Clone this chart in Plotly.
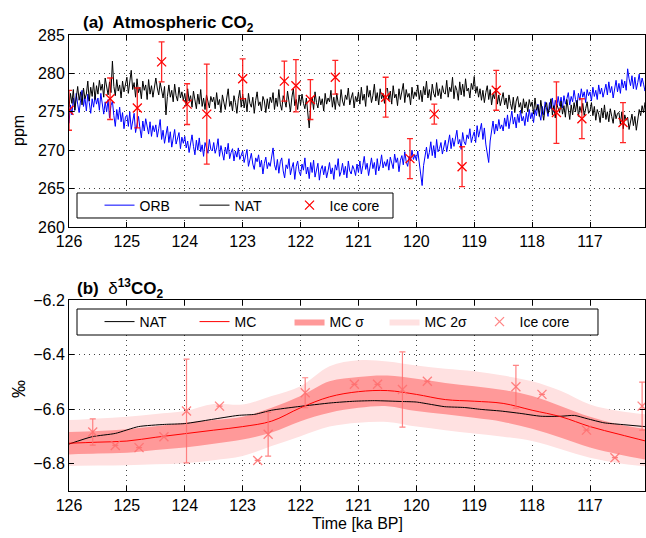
import numpy as np
import plotly.graph_objects as go

# ---------------- Panel (a): atmospheric CO2 ----------------
time_co2 = np.round(126.0 - 0.025 * np.arange(400), 3)

orb_co2 = [
    273.5, 275.9, 274.6, 276.8, 275.2, 277.4, 276.0, 274.9, 276.5, 277.8,
    275.7, 276.9, 275.1, 277.3, 276.2, 274.8, 276.7, 275.6, 277.1, 276.0,
    276.8, 275.2, 277.4, 275.9, 274.7, 276.3, 275.0, 276.6, 274.2, 275.8,
    276.4, 274.5, 273.1, 275.3, 274.0, 275.6, 273.7, 274.9, 272.8, 274.3,
    274.6, 273.1, 275.0, 272.7, 273.9, 274.8, 272.3, 273.6, 274.4, 272.9,
    271.6, 273.8, 272.5, 274.1, 273.0, 272.1, 273.7, 271.8, 273.2, 272.4,
    273.3, 271.7, 272.8, 274.0, 271.4, 272.6, 270.9, 272.2, 273.1, 271.0,
    272.4, 270.4, 271.9, 272.7, 270.8, 271.5, 272.3, 270.2, 271.7, 270.9,
    271.8, 270.3, 271.2, 269.7, 270.8, 272.0, 270.5, 269.4, 271.3, 270.0,
    271.6, 269.8, 270.7, 269.2, 271.0, 270.4, 269.6, 271.4, 270.1, 269.9,
    271.0, 269.6, 270.3, 271.5, 269.2, 270.6, 269.8, 268.7, 270.4, 269.5,
    270.9, 268.9, 269.7, 270.2, 268.6, 269.9, 269.1, 270.3, 268.8, 269.4,
    269.9, 268.4, 269.3, 270.1, 267.9, 268.8, 269.6, 268.2, 267.5, 269.0,
    268.5, 269.4, 267.8, 268.7, 266.9, 268.3, 269.1, 267.6, 268.4, 267.9,
    269.2, 270.3, 268.1, 267.4, 268.8, 267.0, 268.5, 269.0, 267.3, 266.4,
    268.1, 267.6, 268.9, 266.8, 267.7, 268.4, 266.2, 267.9, 268.6, 267.2,
    266.7, 268.2, 267.4, 269.0, 266.9, 267.8, 266.3, 268.4, 267.1, 268.7,
    266.5, 267.6, 268.3, 266.1, 267.5, 268.0, 266.8, 267.9, 266.4, 267.3,
    268.4, 266.9, 267.7, 266.2, 268.1, 267.4, 268.9, 266.6, 267.2, 268.3,
    266.8, 267.9, 266.4, 268.6, 267.3, 266.9, 268.0, 267.5, 266.7, 268.2,
    267.1, 268.6, 266.9, 268.0, 269.2, 267.5, 268.3, 266.7, 267.9, 269.0,
    267.6, 268.4, 266.8, 268.9, 267.3, 268.1, 269.4, 267.7, 268.5, 267.9,
    268.8, 267.4, 269.1, 268.2, 267.6, 269.5, 268.4, 269.0, 267.2, 268.7,
    269.3, 268.1, 269.8, 268.5, 267.9, 269.2, 268.6, 270.0, 268.8, 269.4,
    268.7, 269.9, 268.3, 267.2, 265.4, 268.0, 269.6, 270.4, 268.9, 269.7,
    271.1, 269.3, 270.6, 269.0, 271.4, 269.8, 270.2, 271.0, 269.5, 270.7,
    271.3, 269.8, 270.9, 272.0, 270.2, 271.6, 270.5, 271.9, 272.6, 270.8,
    271.4, 270.1, 272.3, 271.1, 270.7, 272.0, 271.5, 272.8, 271.0, 271.8,
    272.4, 271.0, 273.2, 271.7, 272.6, 273.5, 271.4, 272.9, 270.8, 269.6,
    268.4, 271.2, 272.7, 273.8, 272.1, 273.4, 272.5, 274.0, 272.8, 273.3,
    272.5, 274.2, 273.1, 274.6, 272.8, 273.9, 275.1, 273.4, 274.3, 272.9,
    274.7, 273.6, 275.2, 273.8, 274.4, 273.2, 274.9, 273.7, 275.3, 274.1,
    274.9, 273.6, 275.3, 274.5, 276.0, 274.8, 273.9, 275.7, 274.6, 276.3,
    275.1, 274.4, 276.2, 275.4, 276.8, 275.0, 276.5, 275.6, 277.0, 275.8,
    276.9, 275.5, 277.1, 276.0, 276.7, 277.5, 275.9, 277.0, 276.3, 277.8,
    276.6, 275.8, 277.4, 276.5, 278.0, 276.9, 277.6, 276.2, 277.9, 277.1,
    277.6, 276.4, 278.2, 277.0, 277.8, 276.6, 278.5, 277.3, 278.1, 276.9,
    277.7, 278.6, 277.2, 278.9, 277.5, 278.3, 276.8, 278.0, 279.1, 277.6,
    278.7, 277.4, 279.2, 278.1, 279.0, 277.8, 280.6, 279.3, 278.4, 279.7,
    278.0, 279.5, 277.9, 278.8, 279.9, 278.3, 279.4, 278.6, 277.7, 278.9,
]

nat_co2 = [
    275.6, 277.4, 276.1, 277.9, 275.2, 276.8, 278.3, 276.5, 277.6, 275.9,
    278.1, 276.7, 277.3, 279.0, 276.4, 278.2, 277.0, 278.8, 276.6, 278.4,
    277.3, 279.1, 277.8, 278.6, 276.9, 279.4, 278.0, 277.2, 278.9, 277.5,
    281.6, 278.3, 277.1, 279.2, 277.7, 278.5, 276.8, 279.0, 277.6, 278.7,
    279.5, 277.4, 278.6, 280.4, 277.9, 278.8, 276.9, 279.3, 277.5, 278.2,
    276.7, 279.0, 277.8, 278.5, 276.6, 279.2, 277.3, 278.4, 276.9, 278.0,
    279.4, 278.1, 277.2, 278.8, 277.6, 276.8, 278.3, 274.6, 277.0, 278.5,
    276.9, 277.8, 276.3, 278.6, 277.1, 276.4, 278.2, 276.8, 277.6, 276.5,
    277.4, 275.8, 278.0, 276.4, 277.1, 275.6, 277.7, 276.2, 275.4, 277.3,
    276.0, 277.9, 275.7, 276.8, 275.3, 277.2, 276.1, 275.5, 277.0, 276.3,
    276.9, 275.4, 277.5, 275.9, 276.6, 274.9, 277.2, 276.0, 275.3, 276.8,
    278.0, 275.7, 276.4, 275.1, 277.1, 276.2, 274.8, 276.7, 277.8, 275.6,
    277.3, 275.5, 276.8, 275.0, 277.4, 276.1, 275.6, 276.9, 274.8, 276.5,
    277.6, 275.8, 276.3, 275.1, 277.0, 276.4, 274.9, 276.7, 275.4, 276.9,
    276.2, 277.5, 275.3, 276.8, 275.7, 277.9, 276.0, 275.2, 277.1, 276.5,
    275.6, 277.7, 276.3, 275.0, 276.9, 278.0, 275.8, 276.6, 275.3, 277.2,
    275.9, 277.3, 276.1, 275.4, 276.8, 274.6, 272.9, 275.8, 276.9, 275.3,
    277.6, 276.2, 275.5, 277.0, 275.9, 276.7, 275.1, 277.4, 276.0, 276.8,
    276.3, 277.8, 275.6, 276.9, 275.3, 277.4, 276.1, 275.7, 277.9, 276.4,
    275.8, 277.2, 276.6, 278.1, 275.9, 276.8, 277.5, 275.5, 277.0, 276.3,
    277.6, 276.0, 278.2, 276.5, 277.3, 275.7, 278.4, 276.9, 277.8, 276.2,
    277.1, 278.6, 276.4, 277.5, 275.9, 278.0, 276.7, 277.4, 276.1, 277.9,
    278.1, 276.5, 277.7, 276.0, 278.4, 276.8, 277.3, 275.8, 278.0, 276.6,
    277.5, 278.7, 276.2, 277.9, 276.9, 277.4, 275.9, 278.2, 276.7, 277.6,
    277.0, 278.5, 276.6, 277.8, 276.3, 278.3, 277.2, 279.0, 276.8, 277.9,
    276.5, 278.6, 277.4, 276.9, 278.8, 277.1, 278.0, 276.7, 278.4, 277.5,
    277.3, 279.1, 276.9, 278.2, 277.6, 279.5, 276.7, 278.4, 277.8, 276.5,
    278.9, 277.2, 278.6, 277.0, 279.3, 277.7, 278.1, 276.8, 278.7, 277.9,
    279.6, 277.4, 278.3, 276.9, 278.0, 276.5, 277.8, 276.2, 277.5, 278.4,
    276.6, 277.9, 275.9, 277.3, 276.7, 278.1, 276.0, 277.2, 275.8, 276.9,
    277.5, 275.9, 276.8, 275.4, 277.2, 276.1, 275.3, 276.9, 274.9, 276.4,
    277.0, 275.6, 276.2, 274.8, 276.7, 275.5, 276.3, 275.0, 276.6, 275.7,
    276.3, 274.7, 276.8, 275.2, 275.9, 274.4, 276.5, 275.1, 273.9, 275.6,
    276.2, 274.8, 275.4, 276.7, 274.6, 275.8, 274.2, 276.0, 275.3, 274.9,
    276.4, 274.7, 275.8, 274.3, 276.6, 275.2, 274.0, 275.9, 274.6, 276.2,
    275.0, 276.5, 274.4, 275.7, 274.9, 276.1, 274.5, 275.4, 276.3, 274.8,
    275.1, 276.2, 274.5, 275.7, 273.9, 275.3, 274.7, 273.6, 275.5, 274.2,
    275.9, 274.0, 275.0, 273.7, 275.4, 274.4, 273.5, 275.2, 274.1, 274.8,
    274.9, 273.4, 275.0, 272.8, 274.6, 273.9, 274.3, 272.7, 273.8, 274.7,
    273.2, 274.4, 272.6, 273.9, 275.3, 274.5, 275.8, 274.9, 276.2, 275.6,
]

ice_co2_time = [126.0, 125.29, 124.82, 124.40, 123.96, 123.62, 123.00, 122.28, 122.08, 121.83,
                121.40, 120.53, 120.11, 119.69, 119.21, 118.62, 117.58, 117.14, 116.43]
ice_co2 = [275.2, 276.7, 275.5, 281.5, 276.0, 274.7, 279.3, 279.0, 278.4, 276.6,
           279.5, 276.9, 268.9, 274.7, 267.85, 277.8, 274.9, 274.1, 273.6]
ice_co2_err = [2.6, 2.7, 2.6, 2.6, 2.65, 6.5, 2.6, 2.6, 3.4, 2.6,
               2.2, 2.6, 2.6, 1.3, 2.6, 2.6, 4.0, 2.6, 2.6]

# ---------------- Panel (b): d13CO2 ----------------
time_d13 = [126.0, 125.5, 125.0, 124.5, 124.0, 123.5, 123.0, 122.5, 122.0, 121.5, 121.0,
            120.5, 120.0, 119.5, 119.0, 118.5, 118.0, 117.5, 117.0, 116.5, 116.0]
mc_mean = [-6.725, -6.721, -6.717, -6.703, -6.690, -6.677, -6.664, -6.644, -6.595, -6.555, -6.536,
           -6.532, -6.546, -6.565, -6.571, -6.579, -6.604, -6.628, -6.664, -6.692, -6.719]
mc_1s_hi = [-6.684, -6.680, -6.674, -6.663, -6.650, -6.640, -6.628, -6.595, -6.552, -6.498, -6.482,
            -6.477, -6.489, -6.504, -6.516, -6.530, -6.552, -6.589, -6.628, -6.656, -6.674]
mc_1s_lo = [-6.766, -6.763, -6.760, -6.750, -6.741, -6.727, -6.711, -6.686, -6.644, -6.613, -6.595,
            -6.589, -6.607, -6.619, -6.632, -6.647, -6.672, -6.705, -6.741, -6.766, -6.786]
mc_2s_hi = [-6.640, -6.634, -6.628, -6.618, -6.607, -6.581, -6.583, -6.552, -6.516, -6.443, -6.421,
            -6.425, -6.440, -6.452, -6.461, -6.477, -6.498, -6.534, -6.583, -6.607, -6.620]
mc_2s_lo = [-6.808, -6.807, -6.806, -6.802, -6.798, -6.787, -6.772, -6.735, -6.699, -6.664, -6.650,
            -6.647, -6.664, -6.677, -6.689, -6.701, -6.717, -6.747, -6.778, -6.798, -6.810]

time_nat_d13 = [126.0, 125.6, 125.2, 124.8, 124.35, 124.0, 123.54, 123.08, 122.79, 122.5, 122.05,
                121.47, 121.07, 120.72, 120.26, 120.0, 119.74, 119.51, 119.17, 118.88, 118.54,
                118.19, 117.85, 117.5, 117.27, 117.05, 116.76, 116.47, 116.05]
nat_d13 = [-6.728, -6.701, -6.689, -6.664, -6.656, -6.653, -6.638, -6.623, -6.619, -6.604, -6.591,
           -6.577, -6.571, -6.569, -6.572, -6.574, -6.583, -6.591, -6.594, -6.601, -6.607,
           -6.616, -6.626, -6.626, -6.623, -6.635, -6.650, -6.656, -6.664]

ice_d13_time = [125.59, 125.2, 124.79, 124.36, 123.97, 123.40, 122.74, 122.56, 121.92, 121.07,
                120.67, 120.24, 119.81, 118.28, 117.83, 117.06, 116.57, 116.10]
ice_d13 = [-6.684, -6.733, -6.741, -6.701, -6.607, -6.589, -6.788, -6.692, -6.540, -6.509,
           -6.509, -6.528, -6.498, -6.518, -6.546, -6.677, -6.778, -6.589]
ice_d13_err = [0.048, 0, 0, 0, 0.19, 0, 0, 0.08, 0.055, 0,
               0, 0.138, 0, 0.078, 0, 0, 0, 0.088]

x_ticks = [126, 125, 124, 123, 122, 121, 120, 119, 118, 117]

FONT = "Liberation Sans, Arial, Helvetica, sans-serif"
RED_ICE_B = "rgba(255,110,110,0.85)"

fig = go.Figure()

# ---- top panel traces
fig.add_trace(go.Scatter(x=time_co2, y=orb_co2, mode="lines", name="ORB",
                         line=dict(color="#0000ff", width=1), xaxis="x", yaxis="y",
                         legend="legend"))
fig.add_trace(go.Scatter(x=time_co2, y=nat_co2, mode="lines", name="NAT",
                         line=dict(color="#000000", width=1), xaxis="x", yaxis="y",
                         legend="legend"))
fig.add_trace(go.Scatter(x=ice_co2_time, y=ice_co2, mode="markers", name="Ice core",
                         marker=dict(symbol="x-thin", size=9, line=dict(color="#ff0000", width=1.3)),
                         error_y=dict(type="data", array=ice_co2_err, color="rgba(255,0,0,0.85)",
                                      thickness=1.3, width=3),
                         xaxis="x", yaxis="y", legend="legend"))

# ---- bottom panel traces
fig.add_trace(go.Scatter(x=time_d13, y=mc_2s_lo, mode="lines", line=dict(width=0, shape="spline"),
                         showlegend=False, hoverinfo="skip", xaxis="x2", yaxis="y2"))
fig.add_trace(go.Scatter(x=time_d13, y=mc_2s_hi, mode="lines", name="MC 2\u03c3",
                         line=dict(width=0, shape="spline", color="#ffe1e1"),
                         fill="tonexty", fillcolor="#ffe1e1", xaxis="x2", yaxis="y2",
                         legend="legend2", legendrank=4))
fig.add_trace(go.Scatter(x=time_d13, y=mc_1s_lo, mode="lines", line=dict(width=0, shape="spline"),
                         showlegend=False, hoverinfo="skip", xaxis="x2", yaxis="y2"))
fig.add_trace(go.Scatter(x=time_d13, y=mc_1s_hi, mode="lines", name="MC \u03c3",
                         line=dict(width=0, shape="spline", color="#ff9999"),
                         fill="tonexty", fillcolor="#ff9999", xaxis="x2", yaxis="y2",
                         legend="legend2", legendrank=3))
fig.add_trace(go.Scatter(x=time_nat_d13, y=nat_d13, mode="lines", name="NAT",
                         line=dict(color="#000000", width=1, shape="spline", smoothing=0.6),
                         xaxis="x2", yaxis="y2", legend="legend2", legendrank=1))
fig.add_trace(go.Scatter(x=time_d13, y=mc_mean, mode="lines", name="MC",
                         line=dict(color="#ff0000", width=1, shape="spline"),
                         xaxis="x2", yaxis="y2", legend="legend2", legendrank=2))
fig.add_trace(go.Scatter(x=ice_d13_time, y=ice_d13, mode="markers", name="Ice core",
                         marker=dict(symbol="x-thin", size=9, line=dict(color=RED_ICE_B, width=1.3)),
                         error_y=dict(type="data", array=ice_d13_err, color=RED_ICE_B,
                                      thickness=1.2, width=3),
                         xaxis="x2", yaxis="y2", legend="legend2", legendrank=5))

axis_common = dict(showline=True, linecolor="black", linewidth=1, mirror="allticks",
                   ticks="inside", ticklen=5, tickcolor="black", showgrid=True,
                   gridcolor="rgba(0,0,0,0.75)", griddash="1px,4px", gridwidth=1,
                   zeroline=False, tickfont=dict(size=16, color="black", family=FONT))

TOP_DOM = [0.5789, 1.0]
BOT_DOM = [0.0, 0.4189]

legend_common = dict(orientation="h", xanchor="left", yanchor="middle",
                     bgcolor="rgba(0,0,0,0)", borderwidth=0,
                     font=dict(size=14, family=FONT), entrywidth=50, entrywidthmode="pixels",
                     traceorder="normal")

fig.update_layout(
    width=646, height=538,
    margin=dict(l=69, r=1, t=35, b=47),
    paper_bgcolor="white", plot_bgcolor="white",
    font=dict(family=FONT, size=16, color="black"),
    xaxis=dict(axis_common, domain=[0, 1], range=[126, 116.05], tickvals=x_ticks, anchor="y"),
    yaxis=dict(axis_common, domain=TOP_DOM, range=[260, 285], tickvals=[260, 265, 270, 275, 280, 285],
               anchor="x"),
    xaxis2=dict(axis_common, domain=[0, 1], range=[126, 116.05], tickvals=x_ticks, anchor="y2"),
    yaxis2=dict(axis_common, domain=BOT_DOM, range=[-6.9, -6.2], tickvals=[-6.8, -6.6, -6.4, -6.2],
                tickformat=".1f", anchor="x2"),
    legend=dict(legend_common, x=0.053, y=0.626),
    legend2=dict(legend_common, x=0.053, y=0.3706),
    showlegend=True,
    shapes=[
        dict(type="rect", xref="paper", yref="paper", x0=0.0139, x1=0.5625, y0=0.5987, y1=0.6535,
             fillcolor="white", line=dict(color="black", width=1), layer="above"),
        dict(type="rect", xref="paper", yref="paper", x0=0.0139, x1=0.9184, y0=0.3421, y1=0.3991,
             fillcolor="white", line=dict(color="black", width=1), layer="above"),
    ],
)

annotations = [
    dict(text="<b>(a)  Atmospheric CO<sub>2</sub></b>", x=0.0208, y=1.024, xref="paper", yref="paper",
         xanchor="left", yanchor="middle", showarrow=False, font=dict(size=17)),
    dict(text="<b>(b)</b>  \u03b4<sup><b>13</b></sup><b>CO<sub>2</sub></b>", x=0.0104, y=0.445,
         xref="paper", yref="paper", xanchor="left", yanchor="middle", showarrow=False,
         font=dict(size=17)),
    dict(text="ppm", x=-0.0868, y=0.7895, xref="paper", yref="paper", textangle=-90,
         xanchor="center", yanchor="middle", showarrow=False, font=dict(size=16)),
    dict(text="\u2030", x=-0.0868, y=0.2237, xref="paper", yref="paper", textangle=-90,
         xanchor="center", yanchor="middle", showarrow=False, font=dict(size=18)),
    dict(text="Time [ka BP]", x=0.5, y=-0.072, xref="paper", yref="paper",
         xanchor="center", yanchor="middle", showarrow=False, font=dict(size=16)),
]
fig.update_layout(annotations=annotations)

fig.write_html("out.html")
